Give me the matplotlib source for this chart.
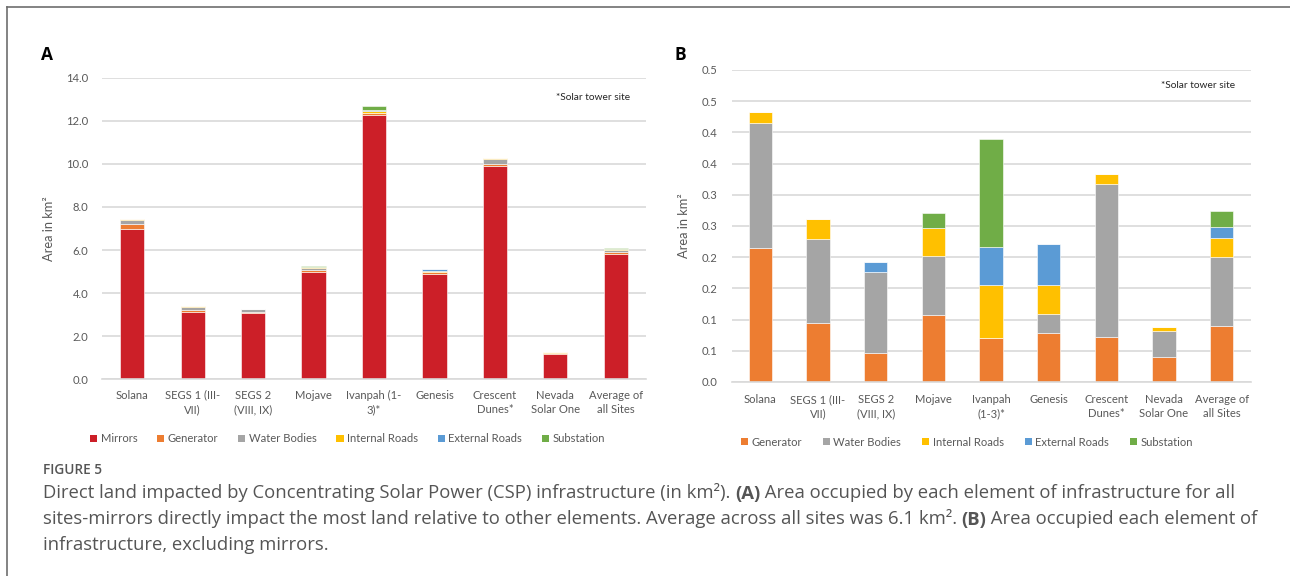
import matplotlib
matplotlib.use("Agg")
import matplotlib.pyplot as plt
import numpy as np
from matplotlib.patches import Patch
from matplotlib.lines import Line2D

# ---- data (km²) ----
sites_a = ["Solana", "SEGS 1 (III-\nVII)", "SEGS 2\n(VIII, IX)", "Mojave",
           "Ivanpah (1-\n3)*", "Genesis", "Crescent\nDunes*", "Nevada\nSolar One",
           "Average of\nall Sites"]
sites_b = ["Solana", "SEGS 1 (III-\nVII)", "SEGS 2\n(VIII, IX)", "Mojave",
           "Ivanpah\n(1-3)*", "Genesis", "Crescent\nDunes*", "Nevada\nSolar One",
           "Average of\nall Sites"]

mirrors = [6.99, 3.14, 3.08, 4.97, 12.28, 4.88, 9.92, 1.16, 5.80]
generator = [0.214, 0.094, 0.046, 0.107, 0.071, 0.078, 0.072, 0.040, 0.090]
water_bodies = [0.201, 0.135, 0.130, 0.095, 0.0, 0.031, 0.245, 0.041, 0.110]
internal_roads = [0.017, 0.032, 0.0, 0.045, 0.084, 0.047, 0.017, 0.0075, 0.031]
external_roads = [0.0, 0.0, 0.017, 0.0, 0.061, 0.065, 0.0, 0.0, 0.018]
substation = [0.0, 0.0, 0.0, 0.0235, 0.173, 0.0, 0.0, 0.0, 0.0246]

a_ticks = [0, 2, 4, 6, 8, 10, 12, 14]
a_tick_labels = ["0.0", "2.0", "4.0", "6.0", "8.0", "10.0", "12.0", "14.0"]
b_ticks = [0.0, 0.05, 0.10, 0.15, 0.20, 0.25, 0.30, 0.35, 0.40, 0.45, 0.50]
b_tick_labels = ["0.0", "0.1", "0.1", "0.2", "0.2", "0.3", "0.3", "0.4", "0.4", "0.5", "0.5"]

series_names = ["Mirrors", "Generator", "Water Bodies", "Internal Roads",
                "External Roads", "Substation"]
colors = {"Mirrors": "#CC1F28", "Generator": "#ED7D31", "Water Bodies": "#A5A5A5",
          "Internal Roads": "#FFC000", "External Roads": "#5B9BD5",
          "Substation": "#70AD47"}

W, H = 1290, 576
plt.rcParams["font.family"] = ["Lato", "DejaVu Sans"]
fig = plt.figure(figsize=(W / 100, H / 100), dpi=100)
fig.patch.set_facecolor("white")

TXT = "#595959"
GRID = "#D9D9D9"
TICK_SIZE = 8.1


def px_axes(left, top, right, bottom):
    return fig.add_axes([left / W, 1 - bottom / H, (right - left) / W, (bottom - top) / H])


def style_axes(ax, ticks, labels, names, ylim, xpad):
    ax.set_ylim(*ylim)
    ax.set_xlim(-0.5, len(names) - 0.5)
    ax.set_yticks(ticks)
    ax.set_yticklabels(labels)
    ax.set_xticks(np.arange(len(names)))
    ax.set_xticklabels(names, linespacing=1.4)
    for s in ("top", "right", "left"):
        ax.spines[s].set_visible(False)
    ax.spines["bottom"].set_color(GRID)
    ax.spines["bottom"].set_linewidth(1.2)
    ax.tick_params(axis="both", length=0, labelsize=TICK_SIZE, colors=TXT)
    ax.tick_params(axis="y", pad=10)
    ax.tick_params(axis="x", pad=xpad)
    ax.grid(axis="y", color=GRID, linewidth=1.2)
    ax.set_axisbelow(True)


def stacked(ax, layers, width):
    x = np.arange(len(layers[0][1]))
    bottom = np.zeros(len(x))
    for name, vals in layers:
        vals = np.asarray(vals, dtype=float)
        ax.bar(x, vals, width, bottom=bottom, color=colors[name],
               edgecolor="white", linewidth=0.4)
        bottom += vals


# ---- panel A ----
axA = px_axes(102, 77.7, 646, 379.3)
stacked(axA, [("Mirrors", mirrors), ("Generator", generator),
              ("Water Bodies", water_bodies), ("Internal Roads", internal_roads),
              ("External Roads", external_roads), ("Substation", substation)], 0.40)
style_axes(axA, a_ticks, a_tick_labels, sites_a, (0, 14), 7.5)
axA.set_ylabel("Area in km²", fontsize=9.3, color=TXT)
axA.yaxis.set_label_coords(-0.086, 0.5)
axA.text(0.9715, 0.933, "*Solar tower site", transform=axA.transAxes, ha="right",
         va="center", fontsize=7.3, color="#262626")

# ---- panel B ----
axB = px_axes(731.5, 70, 1250.5, 382)
stacked(axB, [("Generator", generator), ("Water Bodies", water_bodies),
              ("Internal Roads", internal_roads), ("External Roads", external_roads),
              ("Substation", substation)], 0.41)
style_axes(axB, b_ticks, b_tick_labels, sites_b, (0, 0.5), 8.5)
axB.set_ylabel("Area in km²", fontsize=9.3, color=TXT)
axB.yaxis.set_label_coords(-0.080, 0.5)
axB.text(0.970, 0.950, "*Solar tower site", transform=axB.transAxes, ha="right",
         va="center", fontsize=7.3, color="#262626")


# ---- legends ----
def legend(names, cx, cy, spacing):
    handles = [Patch(facecolor=colors[n], edgecolor="none", label=n) for n in names]
    fig.legend(handles=handles, loc="center", bbox_to_anchor=(cx / W, 1 - cy / H),
               ncol=len(names), frameon=False, fontsize=TICK_SIZE, labelcolor=TXT,
               handlelength=0.65, handleheight=0.65, handletextpad=0.3,
               columnspacing=spacing, borderaxespad=0)


legend(series_names, 347.5, 439, 1.75)
legend(series_names[1:], 967, 442, 1.85)

# ---- panel letters ----
fig.text(40.5 / W, 1 - 60 / H, "A", fontsize=12.5, fontweight="bold", color="black",
         family=["Open Sans", "DejaVu Sans"], va="baseline", ha="left")
fig.text(675 / W, 1 - 60 / H, "B", fontsize=12.5, fontweight="bold", color="black",
         family=["Open Sans", "DejaVu Sans"], va="baseline", ha="left")

# ---- outer frame ----
fig.add_artist(Line2D([7 / W, 7 / W], [0, 1 - 7 / H], color="#6E6E6E", linewidth=1.2,
                      transform=fig.transFigure))
fig.add_artist(Line2D([7 / W, 1], [1 - 7 / H, 1 - 7 / H], color="#6E6E6E", linewidth=1.2,
                      transform=fig.transFigure))

# ---- caption ----
CAP = "#555555"
cap_family = ["Open Sans", "DejaVu Sans"]
renderer = fig.canvas.get_renderer()


def text_runs(x_px, base_px, runs, size):
    x = x_px
    for s, weight in runs:
        t = fig.text(x / W, 1 - base_px / H, s, fontsize=size, fontweight=weight,
                     color=CAP, family=cap_family, ha="left", va="baseline")
        x += t.get_window_extent(renderer).width


fig.text(42.7 / W, 1 - 474 / H, "FIGURE 5", fontsize=9.8, fontweight="semibold",
         color=CAP, family=cap_family, ha="left", va="baseline")
cap_size = 13.3
text_runs(42.7, 498.5, [
    ("Direct land impacted by Concentrating Solar Power (CSP) infrastructure (in km²). ", "normal"),
    ("(A)", "bold"),
    (" Area occupied by each element of infrastructure for all", "normal")], cap_size)
text_runs(42.7, 524.5, [
    ("sites-mirrors directly impact the most land relative to other elements. Average across all sites was 6.1 km². ", "normal"),
    ("(B)", "bold"),
    (" Area occupied each element of", "normal")], cap_size)
text_runs(42.7, 550, [("infrastructure, excluding mirrors.", "normal")], cap_size)

fig.savefig("out.png", dpi=100, facecolor="white")
